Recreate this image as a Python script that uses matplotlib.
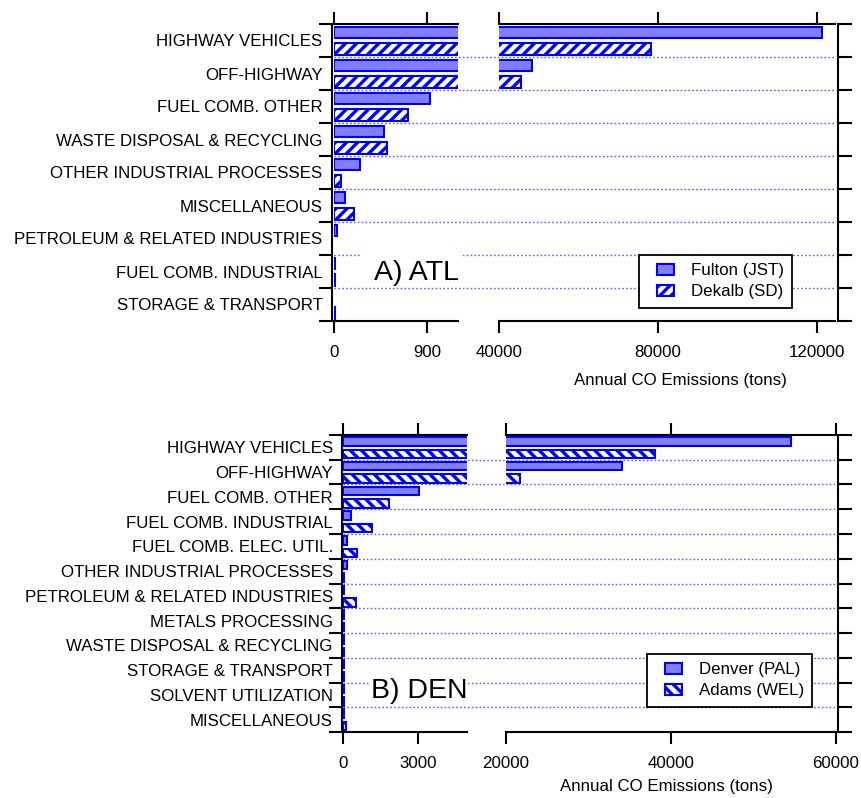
import matplotlib
matplotlib.use('Agg')
import matplotlib.pyplot as plt
import numpy as np
from matplotlib.patches import Rectangle
from matplotlib.container import BarContainer
from matplotlib.legend_handler import HandlerPatch, update_from_first_child

plt.rcParams['font.family'] = ['Liberation Sans', 'DejaVu Sans']
plt.rcParams['hatch.linewidth'] = 2.4
plt.rcParams['hatch.color'] = 'blue'

W, H = 862, 798

# ATL data (tons)
atl_categories = ['HIGHWAY VEHICLES', 'OFF-HIGHWAY', 'FUEL COMB. OTHER',
                  'WASTE DISPOSAL & RECYCLING', 'OTHER INDUSTRIAL PROCESSES',
                  'MISCELLANEOUS', 'PETROLEUM & RELATED INDUSTRIES',
                  'FUEL COMB. INDUSTRIAL', 'STORAGE & TRANSPORT']
fulton = [121300, 48300, 926, 484, 250, 105, 25, 10, 0]
dekalb = [78200, 45500, 716, 510, 70, 188, 0, 6, 10]

# DEN data (tons)
den_categories = ['HIGHWAY VEHICLES', 'OFF-HIGHWAY', 'FUEL COMB. OTHER',
                  'FUEL COMB. INDUSTRIAL', 'FUEL COMB. ELEC. UTIL.',
                  'OTHER INDUSTRIAL PROCESSES', 'PETROLEUM & RELATED INDUSTRIES',
                  'METALS PROCESSING', 'WASTE DISPOSAL & RECYCLING',
                  'STORAGE & TRANSPORT', 'SOLVENT UTILIZATION', 'MISCELLANEOUS']
denver = [54600, 34100, 3040, 290, 150, 160, 30, 20, 20, 30, 30, 20]
adams = [38100, 21700, 1830, 1160, 560, 40, 500, 20, 30, 20, 20, 110]

FILL = '#8080ff'
EDGE = '#0000ff'
GRID = '#5c5cff'
FS = 12.2

fig = plt.figure(figsize=(W / 100, H / 100), dpi=100)


def px_axes(x0, x1, y0, y1):
    return fig.add_axes([x0 / W, 1 - y1 / H, (x1 - x0) / W, (y1 - y0) / H])


def small_box(legend, orig_handle, xdescent, ydescent, width, height, fontsize):
    # legend swatch sits at the right end of the handle area
    w = 17 * 72 / 100
    return Rectangle((width - xdescent - w, -ydescent), w, height)


def draw_panel(cats, s1, s2, lab1, lab2, hatch, xs, y0, y1, lims, ticks,
               offs, legend_xy, title, title_xy, blank):
    n = len(cats)
    pos = np.arange(n)
    bounds = np.arange(n + 1) - 0.5
    s1 = np.asarray(s1, float)
    s2 = np.asarray(s2, float)

    # dotted category separators across the whole panel (incl. the break)
    gax = px_axes(xs[0], xs[3], y0, y1)
    gax.set_xlim(0, 1)
    gax.set_ylim(n - 0.5, -0.5)
    gax.hlines(bounds[1:-1], 0, 1, colors=GRID, linestyles=(0, (1.2, 1.6)), lw=1.0)
    gax.axis('off')
    gax.set_zorder(0)

    axl = px_axes(xs[0], xs[1], y0, y1)
    axr = px_axes(xs[2], xs[3], y0, y1)
    for ax, lim, tk in ((axl, lims[0], ticks[0]), (axr, lims[1], ticks[1])):
        ax.set_zorder(1)
        ax.patch.set_visible(False)
        m1 = s1 > 0
        m2 = s2 > 0
        ax.barh(pos[m1] - 0.24, s1[m1], height=0.34, color=FILL,
                edgecolor=EDGE, linewidth=1.5, label=lab1)
        ax.barh(pos[m2] + 0.26, s2[m2], height=0.34, color='white',
                edgecolor=EDGE, linewidth=1.5, hatch=hatch, label=lab2)
        ax.set_xlim(*lim)
        ax.set_ylim(n - 0.5, -0.5)
        ax.set_xticks(tk)
        ax.set_xticklabels([str(t) for t in tk])
        ax.tick_params(axis='x', which='major', direction='out', length=8.6,
                       width=1.5, top=True, bottom=True, labelsize=FS, pad=9)
        ax.set_yticks(bounds, minor=True)
        for sp in ax.spines.values():
            sp.set_linewidth(1.5)

    axl.spines['right'].set_visible(False)
    axl.spines['left'].set_position(('outward', offs[0]))
    axl.set_yticks(pos)
    axl.set_yticklabels(cats)
    axl.tick_params(axis='y', which='major', length=0, pad=6.5, labelsize=FS)
    axl.tick_params(axis='y', which='minor', direction='out', length=9.5,
                    width=1.5, left=True, right=False)

    axr.spines['left'].set_visible(False)
    axr.spines['right'].set_position(('outward', offs[1]))
    axr.set_yticks([])
    axr.tick_params(axis='y', which='minor', direction='out', length=10,
                    width=1.5, left=False, right=True, labelleft=False)

    box = HandlerPatch(patch_func=small_box, update_func=update_from_first_child)
    leg = axr.legend(loc='upper left', bbox_to_anchor=(legend_xy[0] / W, 1 - legend_xy[1] / H),
                     bbox_transform=fig.transFigure, fontsize=FS, fancybox=False,
                     edgecolor='black', framealpha=1, handlelength=1.55,
                     handleheight=0.55, handletextpad=1.0, borderpad=0.5,
                     labelspacing=0.35, borderaxespad=0,
                     handler_map={BarContainer: box})
    leg.get_frame().set_linewidth(1.3)

    bx0, by0, bx1, by1 = blank
    fig.add_artist(Rectangle((bx0 / W, 1 - by1 / H), (bx1 - bx0) / W, (by1 - by0) / H,
                             transform=fig.transFigure, facecolor='white',
                             edgecolor='none', zorder=2))
    fig.text(title_xy[0] / W, 1 - title_xy[1] / H, title, ha='center',
             va='baseline', fontsize=20.5, zorder=3)


# A) ATL
draw_panel(atl_categories, fulton, dekalb, 'Fulton (JST)', 'Dekalb (SD)', '///',
           xs=(334, 458.5, 499, 835), y0=24, y1=321,
           lims=((0, 1200), (40000, 124500)), ticks=([0, 900], [40000, 80000, 120000]),
           offs=(1.8, 2.2), legend_xy=(639, 255), title='A) ATL',
           title_xy=(416, 280), blank=(360, 252, 463, 283))
fig.text(680 / W, 1 - 380 / H, 'Annual CO Emissions (tons)', ha='center',
         va='center', fontsize=FS)

# B) DEN
draw_panel(den_categories, denver, adams, 'Denver (PAL)', 'Adams (WEL)', '\\\\\\',
           xs=(343.5, 467.5, 506, 836), y0=435, y1=732,
           lims=((0, 5000), (20000, 60000)), ticks=([0, 3000], [20000, 40000, 60000]),
           offs=(1.2, 1.5), legend_xy=(647, 654), title='B) DEN',
           title_xy=(419, 698), blank=(369, 674, 466, 700))
fig.text(666 / W, 1 - 787 / H, 'Annual CO Emissions (tons)', ha='center',
         va='center', fontsize=FS)

fig.savefig('out.png', dpi=100)
